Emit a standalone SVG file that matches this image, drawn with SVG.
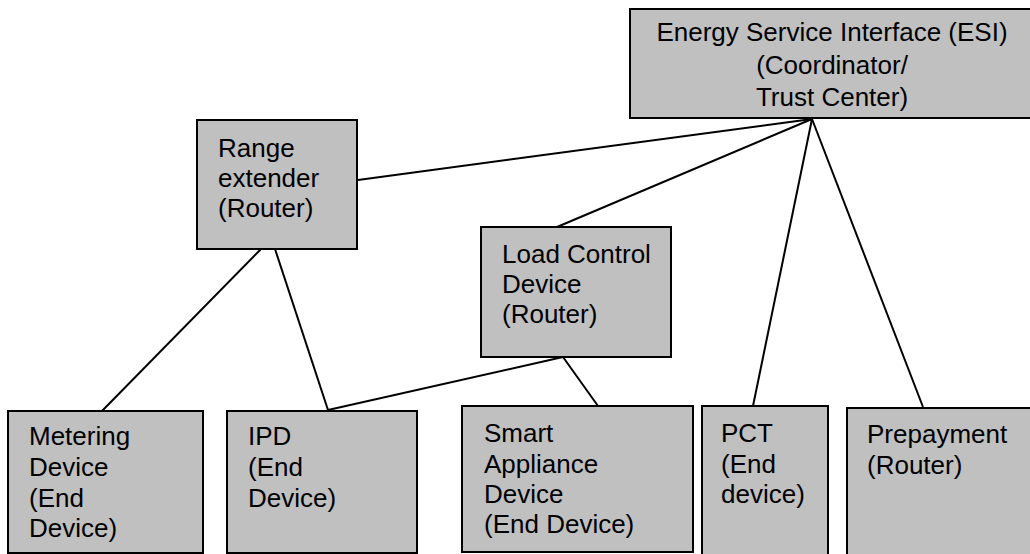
<svg xmlns="http://www.w3.org/2000/svg" width="1030" height="554" viewBox="0 0 1030 554">
<style>
.box{fill:#c0c0c0;stroke:#000;stroke-width:2}
.t{font-family:"Liberation Sans",Arial,sans-serif;font-size:26px;fill:#000}
.c{text-anchor:middle}
.ln{stroke:#000;stroke-width:2;fill:none}
</style>
<rect x="0" y="0" width="1030" height="554" fill="#fff"/>
<g id="connectors">
<line class="ln" x1="812" y1="119" x2="358" y2="180"/>
<line class="ln" x1="812" y1="119" x2="557" y2="227"/>
<line class="ln" x1="812" y1="119" x2="753" y2="406"/>
<line class="ln" x1="812" y1="119" x2="923" y2="407"/>
<line class="ln" x1="261" y1="249" x2="102" y2="411"/>
<line class="ln" x1="275" y1="249" x2="328" y2="410"/>
<line class="ln" x1="563" y1="357" x2="328" y2="410"/>
<line class="ln" x1="563" y1="357" x2="598" y2="406"/>
</g>
<g id="esi">
<rect class="box" x="630" y="9" width="406" height="109"/>
<text class="t c" x="832" y="41">Energy Service Interface (ESI)</text>
<text class="t c" x="832" y="74">(Coordinator/</text>
<text class="t c" x="832" y="106">Trust Center)</text>
</g>
<g id="range">
<rect class="box" x="197" y="120" width="160" height="129"/>
<text class="t" x="218" y="157">Range</text>
<text class="t" x="218" y="187">extender</text>
<text class="t" x="218" y="217">(Router)</text>
</g>
<g id="load">
<rect class="box" x="481" y="227" width="190" height="130"/>
<text class="t" x="502" y="263">Load Control</text>
<text class="t" x="502" y="293">Device</text>
<text class="t" x="502" y="323">(Router)</text>
</g>
<g id="metering">
<rect class="box" x="8" y="411" width="195" height="142"/>
<text class="t" x="29" y="445">Metering</text>
<text class="t" x="29" y="476">Device</text>
<text class="t" x="29" y="507">(End</text>
<text class="t" x="29" y="537">Device)</text>
</g>
<g id="ipd">
<rect class="box" x="227" y="411" width="190" height="142"/>
<text class="t" x="248" y="445">IPD</text>
<text class="t" x="248" y="476">(End</text>
<text class="t" x="248" y="507">Device)</text>
</g>
<g id="smart">
<rect class="box" x="462" y="406" width="231" height="146"/>
<text class="t" x="484" y="442">Smart</text>
<text class="t" x="484" y="473">Appliance</text>
<text class="t" x="484" y="503">Device</text>
<text class="t" x="484" y="533">(End Device)</text>
</g>
<g id="pct">
<rect class="box" x="702" y="406" width="126" height="152"/>
<text class="t" x="721" y="442">PCT</text>
<text class="t" x="721" y="473">(End</text>
<text class="t" x="721" y="503">device)</text>
</g>
<g id="prepayment">
<rect class="box" x="847" y="408" width="190" height="152"/>
<text class="t" x="867" y="443">Prepayment</text>
<text class="t" x="867" y="474">(Router)</text>
</g>
</svg>
